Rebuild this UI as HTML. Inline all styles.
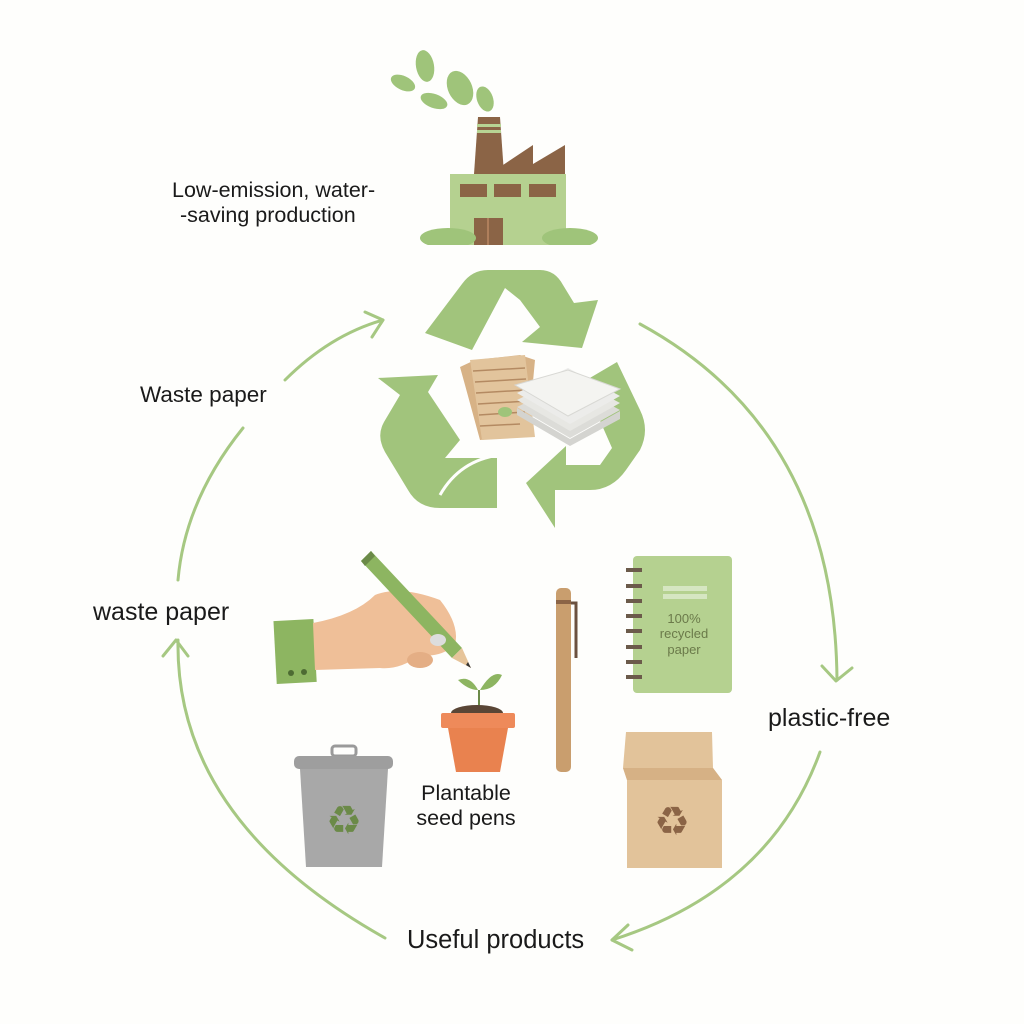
<!DOCTYPE html>
<html><head><meta charset="utf-8"><style>
html,body{margin:0;padding:0;background:#fff}
svg{display:block}
text{font-family:"Liberation Sans","DejaVu Sans",sans-serif;fill:#1a1a1a}
</style></head><body>
<svg width="1024" height="1024" viewBox="0 0 1024 1024" xmlns="http://www.w3.org/2000/svg">
<rect width="1024" height="1024" fill="#fefefc"/>
<g fill="none" stroke="#a6c882" stroke-width="3" stroke-linecap="round" stroke-linejoin="round">
<path d="M285,380 Q330,335 383,320"/><path d="M365,312 L383,320 L372,337"/>
<path d="M243,428 Q185,500 178,580"/>
<path d="M178,640 Q175,820 385,938"/><path d="M163,656 L176,640 L188,656"/>
<path d="M640,324 Q835,430 837,680"/><path d="M822,666 L836,681 L852,668"/>
<path d="M820,752 Q770,890 612,940"/><path d="M628,925 L612,940 L632,950"/>
</g>
<g>
<g fill="#9fc47a">
<ellipse cx="403" cy="83" rx="13" ry="7" transform="rotate(25 403 83)"/>
<ellipse cx="425" cy="66" rx="9" ry="16" transform="rotate(-10 425 66)"/>
<ellipse cx="434" cy="101" rx="14" ry="7" transform="rotate(20 434 101)"/>
<ellipse cx="460" cy="88" rx="12" ry="18" transform="rotate(-25 460 88)"/>
<ellipse cx="485" cy="99" rx="8" ry="13" transform="rotate(-20 485 99)"/>
</g>
<polygon points="478,117 500,117 504,174 474,174" fill="#8b6446"/>
<rect x="477" y="124" width="24" height="3" fill="#b7d493"/><rect x="477" y="130" width="24" height="3" fill="#b7d493"/>
<polygon points="503,174 503,165 533,145 533,164 565,145 565,174" fill="#8b6446"/>
<rect x="450" y="174" width="116" height="71" fill="#b5d190"/>
<rect x="460" y="184" width="27" height="13" fill="#8b6446"/>
<rect x="494" y="184" width="27" height="13" fill="#8b6446"/>
<rect x="529" y="184" width="27" height="13" fill="#8b6446"/>
<rect x="474" y="218" width="29" height="27" fill="#8b6446"/>
<line x1="488" y1="218" x2="488" y2="245" stroke="#d39a72" stroke-width="1"/>
<ellipse cx="448" cy="238" rx="28" ry="10" fill="#9fc47a"/>
<ellipse cx="570" cy="238" rx="28" ry="10" fill="#9fc47a"/>
<rect x="420" y="245" width="180" height="5" fill="#fefefc"/>
</g>
<text x="172" y="197" font-size="21.5">Low-emission, water-</text>
<text x="180" y="222" font-size="21.5">-saving production</text>
<g fill="#a1c47c">
<path d="M425,333 L462,284 Q472,270 488,270 L540,270 Q555,270 563,285 L574,303 L598,300 L582,348 L522,342 L540,327 L520,300 L505,288 L472,350 Z"/>
<path d="M482,288 L505,270 L468,330 Z"/>
<path d="M378,378 L438,375 L428,392 L460,440 L445,458 L497,458 L497,508 L440,508 Q418,508 408,490 L385,452 Q376,436 384,422 L400,395 Z"/>
<path d="M583,382 L617,362 L640,410 Q650,430 640,450 L626,470 Q612,490 590,490 L555,490 L555,528 L526,483 L566,446 L566,465 L600,465 L612,448 Z"/>
</g>
<path d="M440,495 Q460,460 500,455" stroke="#fefefc" stroke-width="3" fill="none"/>
<polygon points="460,367 475,360 520,355 535,360 528,435 480,440 465,385" fill="#d7b286"/>
<polygon points="470,360 525,355 535,437 482,440" fill="#e2c49c"/>
<g stroke="#b48a62" stroke-width="1.5"><line x1="473" y1="371" x2="525" y2="368"/><line x1="475" y1="382" x2="526" y2="379"/><line x1="476" y1="393" x2="527" y2="390"/><line x1="478" y1="404" x2="528" y2="401"/><line x1="479" y1="415" x2="525" y2="412"/><line x1="480" y1="426" x2="520" y2="424"/></g>
<ellipse cx="505" cy="412" rx="7" ry="5" fill="#9fc47a"/>
<g>
<polygon points="517,407 570,438 620,410 568,382" fill="#dcdcd8"/>
<polygon points="517,400 570,431 620,403 568,375" fill="#e7e7e3"/>
<polygon points="517,393 570,424 620,396 568,368" fill="#ececea"/>
<polygon points="515,385 568,416 620,389 568,370" fill="#f4f4f1" stroke="#d8d8d4"/>
<polygon points="517,408 570,439 620,411 620,419 570,446 517,415" fill="#d4d4d0"/>
</g>
<!-- hand & pencil -->
<rect x="275" y="620" width="40" height="63" fill="#8db561" transform="rotate(-3 295 650)"/>
<circle cx="291" cy="673" r="3" fill="#4d6b33"/><circle cx="304" cy="672" r="3" fill="#4d6b33"/>
<path d="M313,623 Q355,615 375,595 Q400,585 440,600 Q460,625 455,645 Q440,658 420,655 Q400,670 380,668 L315,670 Z" fill="#efbf98"/>
<polygon points="371,551 361,561 452,658 462,648" fill="#8db561"/>
<polygon points="371,551 361,561 365,566 375,556" fill="#6b8a48"/>
<polygon points="452,658 462,648 471,668" fill="#e6c49a"/>
<polygon points="468,662 471,668 466,665" fill="#333"/>
<ellipse cx="438" cy="640" rx="8" ry="6" fill="#ddd"/>
<ellipse cx="420" cy="660" rx="13" ry="8" fill="#e4ae85"/>
<!-- pot -->
<path d="M478,690 Q470,675 458,680 Q468,690 478,690 Z M480,690 Q492,670 502,675 Q495,690 480,690 Z" fill="#8db561"/>
<line x1="479" y1="690" x2="479" y2="706" stroke="#6b8a48" stroke-width="2"/>
<ellipse cx="477" cy="713" rx="26" ry="8" fill="#5a4636"/>
<rect x="441" y="713" width="74" height="15" rx="2" fill="#ee8a5a"/>
<polygon points="448,728 508,728 500,772 456,772" fill="#e9824f"/>
<text x="466" y="800" font-size="21.5" text-anchor="middle">Plantable</text>
<text x="466" y="825" font-size="21.5" text-anchor="middle">seed pens</text>
<rect x="556" y="588" width="15" height="184" rx="5" fill="#c99e6e"/>
<rect x="556" y="600" width="15" height="4" fill="#8b6446"/>
<path d="M571,603 L576,603 L576,658" stroke="#6b5140" stroke-width="3" fill="none"/>
<rect x="633" y="556" width="99" height="137" rx="4" fill="#b5d190"/>
<g fill="#6b5a4a"><rect x="626" y="568" width="16" height="4"/><rect x="626" y="584" width="16" height="4"/><rect x="626" y="599" width="16" height="4"/><rect x="626" y="614" width="16" height="4"/><rect x="626" y="629" width="16" height="4"/><rect x="626" y="645" width="16" height="4"/><rect x="626" y="660" width="16" height="4"/><rect x="626" y="675" width="16" height="4"/></g>
<rect x="663" y="586" width="44" height="5" fill="#d6e6c2"/><rect x="663" y="594" width="44" height="5" fill="#d6e6c2"/>
<text x="684" y="623" font-size="13" text-anchor="middle" style="fill:#6b7a4a">100%</text>
<text x="684" y="638" font-size="13" text-anchor="middle" style="fill:#6b7a4a">recycled</text>
<text x="684" y="654" font-size="13" text-anchor="middle" style="fill:#6b7a4a">paper</text>
<polygon points="626,732 712,732 713,768 722,780 722,868 627,868 627,780 623,768" fill="#e2c39a"/>
<polygon points="623,768 713,768 722,780 627,780" fill="#d6b185"/>
<text x="672" y="835" font-size="40" text-anchor="middle" style="fill:#8b6446">♻</text>
<rect x="332" y="746" width="24" height="10" rx="3" fill="none" stroke="#9a9a9a" stroke-width="3"/>
<rect x="294" y="756" width="99" height="13" rx="5" fill="#9e9e9e"/>
<polygon points="300,769 388,769 382,867 306,867" fill="#a8a8a8"/>
<text x="344" y="834" font-size="40" text-anchor="middle" style="fill:#6b8a48">♻</text>
<text x="140" y="402" font-size="22.5">Waste paper</text>
<text x="93" y="620" font-size="25">waste paper</text>
<text x="768" y="726" font-size="25">plastic-free</text>
<text x="407" y="948" font-size="25.5">Useful products</text>
</svg>
</body></html>
